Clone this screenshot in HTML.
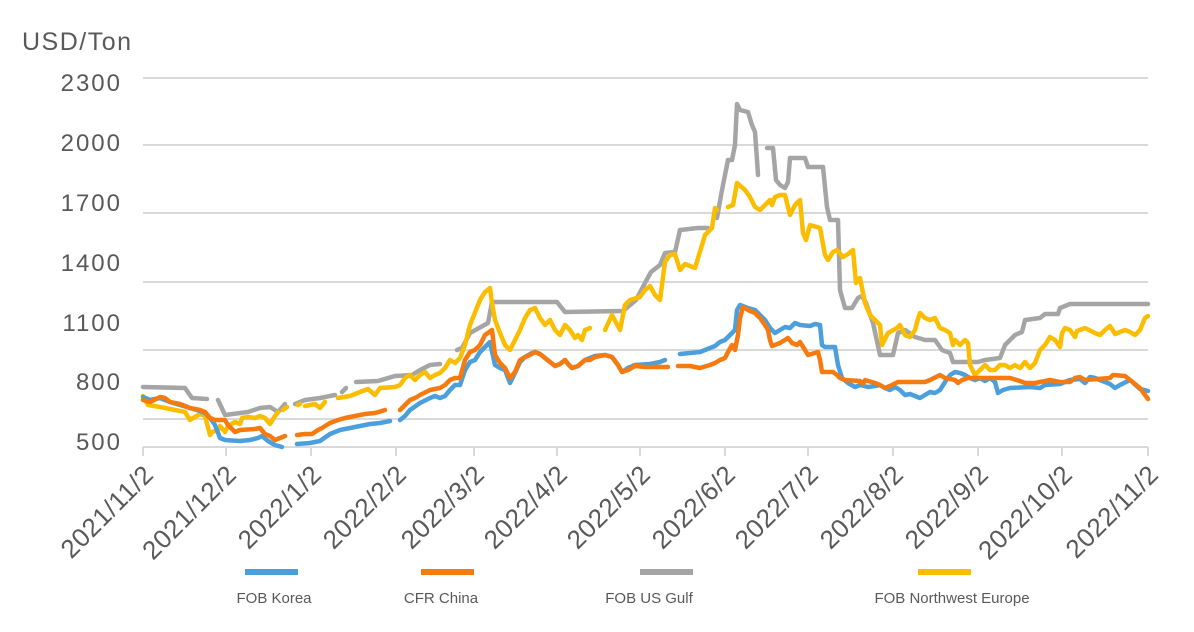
<!DOCTYPE html>
<html><head><meta charset="utf-8"><style>
body{margin:0;background:#fff;}
svg{display:block;font-family:"Liberation Sans",sans-serif;}
</style></head><body>
<svg width="1194" height="632" viewBox="0 0 1194 632">
<g stroke="#d9d9d9" stroke-width="2">
<line x1="143" y1="78" x2="1148" y2="78"/>
<line x1="143" y1="145" x2="1148" y2="145"/>
<line x1="143" y1="213" x2="1148" y2="213"/>
<line x1="143" y1="282" x2="1148" y2="282"/>
<line x1="143" y1="350" x2="1148" y2="350"/>
<line x1="143" y1="419" x2="1148" y2="419"/>
<line x1="143" y1="447" x2="1148" y2="447"/>
<line x1="143" y1="447" x2="143" y2="456"/><line x1="226" y1="447" x2="226" y2="456"/><line x1="311" y1="447" x2="311" y2="456"/><line x1="396" y1="447" x2="396" y2="456"/><line x1="474" y1="447" x2="474" y2="456"/><line x1="557" y1="447" x2="557" y2="456"/><line x1="640" y1="447" x2="640" y2="456"/><line x1="725" y1="447" x2="725" y2="456"/><line x1="808" y1="447" x2="808" y2="456"/><line x1="893" y1="447" x2="893" y2="456"/><line x1="978" y1="447" x2="978" y2="456"/><line x1="1062" y1="447" x2="1062" y2="456"/><line x1="1148" y1="447" x2="1148" y2="456"/>
</g>
<g fill="#595959" font-size="24" letter-spacing="2" text-anchor="end">
<text x="122" y="91">2300</text><text x="122" y="151">2000</text><text x="122" y="211">1700</text><text x="122" y="271">1400</text><text x="122" y="331">1100</text><text x="122" y="390">800</text><text x="122" y="450">500</text>
</g>
<text x="22" y="50" fill="#595959" font-size="25" letter-spacing="1.5">USD/Ton</text>
<g fill="#595959" font-size="26" letter-spacing="0.5" text-anchor="end">
<text transform="translate(155,476) rotate(-45)">2021/11/2</text>
<text transform="translate(238,476) rotate(-45)">2021/12/2</text>
<text transform="translate(323,476) rotate(-45)">2022/1/2</text>
<text transform="translate(408,476) rotate(-45)">2022/2/2</text>
<text transform="translate(486,476) rotate(-45)">2022/3/2</text>
<text transform="translate(569,476) rotate(-45)">2022/4/2</text>
<text transform="translate(652,476) rotate(-45)">2022/5/2</text>
<text transform="translate(737,476) rotate(-45)">2022/6/2</text>
<text transform="translate(820,476) rotate(-45)">2022/7/2</text>
<text transform="translate(905,476) rotate(-45)">2022/8/2</text>
<text transform="translate(990,476) rotate(-45)">2022/9/2</text>
<text transform="translate(1074,476) rotate(-45)">2022/10/2</text>
<text transform="translate(1160,476) rotate(-45)">2022/11/2</text>
</g>
<g fill="none" stroke-width="4.5" stroke-linejoin="round" stroke-linecap="round">
<g stroke="#a5a5a5">
<polyline points="143,387 185,388 192,398 207,399"/>
<polyline points="218,400 225,415 248,412 260,408 270,407 278,412 285,404"/>
<polyline points="295,404 305,400 320,398 335,395"/>
<polyline points="342,392 346,388"/>
<polyline points="356,382 378,381 395,376 412,375 420,370 430,365 440,364"/>
<polyline points="457,350 462,348 470,333 488,323 492,302 500,302 557,302 565,312 623,311 636,300 645,283 651,272 660,265 665,253 675,252 680,230 698,228 708,228"/>
<polyline points="717,218 722,190 728,160 732,160 735,145 737,104 740,110 748,112 752,125 755,132 757,160 758,175"/>
<polyline points="767,148 773,148 776,180 780,185 785,188 788,182 790,158 805,158 808,167 823,167 827,207 830,220 838,220 840,290 845,308 852,308 858,298 862,296 866,303 873,323 880,355 893,355 898,333 905,330 915,337 925,340 935,340 942,350 950,353 953,362 978,362 985,360 1000,358 1005,345 1015,335 1022,332 1025,320 1040,318 1045,314 1058,314 1060,308 1070,304 1148,304"/>
</g>
<g stroke="#fbbd00">
<polyline points="143,396 148,405 160,407 175,410 185,412 190,420 193,418 200,414 205,416 210,435 212,432 218,430 220,426 225,432 228,426 235,422 240,424 242,418 248,417 255,418 260,416 265,418 270,424 275,416 278,412"/>
<polyline points="283,410 287,407"/>
<polyline points="298,405 300,404"/>
<polyline points="305,406 315,404 320,408 325,402"/>
<polyline points="338,398 350,396 360,392 368,389 375,395 380,388 395,387 400,385 405,378 410,375 415,380 420,375 425,372 430,378 435,375 440,373 445,368 450,360 455,363 460,358 465,345 470,325 480,300 485,292 490,288 492,303 495,320 500,333 505,345 510,350 515,340 520,330 525,318 530,310 535,308 540,318 545,325 550,320 555,330 560,335 565,325 570,330 575,338 578,335 582,340 585,330 590,328"/>
<polyline points="605,330 612,315 620,330 625,305 630,300 640,297 645,290 650,286 655,295 660,300 665,262 670,255 675,254 680,270 685,264 695,268 705,235 712,228 715,208 717,210"/>
<polyline points="728,207 733,205 737,183 745,190 750,197 755,207 760,210 765,205 770,200 772,205 775,197 780,195 785,195 790,215 795,205 800,200 803,233 806,240 810,225 820,228 825,255 828,260 833,252 837,250 843,257 848,254 853,250 856,283 860,278 865,303 870,315 875,320 880,325 882,345 888,333 897,328 900,325 905,335 910,337 915,330 917,322 920,313 925,318 930,320 935,318 940,328 945,330 950,333 953,345 955,340 960,345 965,340 968,343 970,365 975,375 980,370 985,365 990,370 995,370 1000,365 1005,365 1010,368 1015,365 1020,368 1025,362 1030,368 1035,363 1040,350 1045,345 1050,337 1055,340 1060,347 1062,333 1065,328 1070,330 1075,337 1077,331 1085,328 1095,333 1100,335 1105,330 1110,326 1115,334 1125,330 1130,332 1135,335 1140,330 1145,318 1148,316"/>
</g>
<g stroke="#4a9fdc">
<polyline points="143,397 150,400 160,398 170,402 180,405 190,408 200,411 205,413 210,418 215,425 220,438 225,440 240,441 250,440 258,438 262,436 268,441 275,445 282,447"/>
<polyline points="297,444 310,443 320,441 330,434 340,430 350,428 360,426 370,424 380,423 390,421"/>
<polyline points="400,420 405,416 410,410 420,403 430,398 435,396 440,398 445,396 450,390 455,385 460,385 465,370 470,362 475,360 480,352 490,342 495,365 500,368 505,370 510,383 515,373 520,362 525,357 530,354 535,352 540,354 545,358 550,362 555,366 560,364 565,360 568,364 572,368 578,366 585,360 590,358 595,356 605,355 612,357 618,365 622,372 628,368 635,365 650,364 660,362 665,360"/>
<polyline points="680,354 690,353 700,352 710,348 715,346 720,342 725,340 730,335 735,330 737,310 740,305 748,308 755,310 765,320 770,328 775,333 780,330 785,327 790,328 795,323 800,325 810,326 815,324 820,325 822,345 825,347 835,347 838,365 842,378 848,383 855,387 860,385 868,387 875,386 880,385 885,388 890,390 895,387 900,390 905,395 910,394 915,396 920,398 925,395 930,392 935,393 940,390 945,382 950,375 955,372 960,373 965,375 970,378 975,380 980,378 985,381 990,378 995,382 998,393 1003,390 1010,388 1030,387 1040,388 1045,385 1060,384 1070,380 1080,379 1085,383 1090,377 1095,378 1100,380 1110,384 1115,388 1120,385 1130,380 1140,389 1148,391"/>
</g>
<g stroke="#f77a0f">
<polyline points="143,400 150,402 160,397 165,398 170,402 180,404 190,408 200,410 205,412 210,418 215,420 225,420 228,425 235,432 240,430 255,429 260,428 265,434 270,436 275,440 280,438 285,436"/>
<polyline points="297,435 305,434 312,434 318,430 322,428 330,423 338,420 345,418 355,416 365,414 375,413 382,411 385,410"/>
<polyline points="400,410 405,405 410,400 415,398 420,395 430,390 440,388 445,385 450,380 455,378 460,378 465,360 470,352 475,350 480,345 485,335 492,330 495,355 500,363 505,368 510,378 515,372 520,360 525,357 530,355 535,352 540,354 545,358 550,362 555,366 560,364 565,360 568,364 572,368 578,366 585,360 590,360 595,357 605,355 612,357 618,365 622,372 628,370 635,366 645,367 668,367"/>
<polyline points="678,366 690,366 700,368 710,365 715,363 720,360 725,358 728,352 732,345 735,350 738,335 740,318 743,307 748,310 755,313 760,318 765,325 768,330 770,340 772,346 780,343 788,338 792,343 797,345 800,342 805,350 808,355 818,352 820,360 822,372 833,372 837,375 840,378 845,380 860,381 863,384 865,380 875,383 880,385 885,388 890,386 898,382 925,382 930,380 940,375 945,378 955,380 958,383 962,380 968,378 1010,378 1020,381 1025,383 1035,383 1050,380 1060,382 1070,382 1075,378 1080,377 1085,380 1110,378 1113,375 1125,376 1130,380 1135,384 1140,388 1148,399"/>
</g>
</g>
<g stroke-width="6">
<line x1="245" y1="572" x2="298" y2="572" stroke="#4a9fdc"/>
<line x1="421" y1="572" x2="474" y2="572" stroke="#f77a0f"/>
<line x1="640" y1="572" x2="693" y2="572" stroke="#a5a5a5"/>
<line x1="918" y1="572" x2="971" y2="572" stroke="#fbbd00"/>
</g>
<g fill="#595959" font-size="15" text-anchor="middle">
<text x="274" y="603">FOB Korea</text>
<text x="441" y="603">CFR China</text>
<text x="649" y="603">FOB US Gulf</text>
<text x="952" y="603">FOB Northwest Europe</text>
</g>
</svg>
</body></html>
